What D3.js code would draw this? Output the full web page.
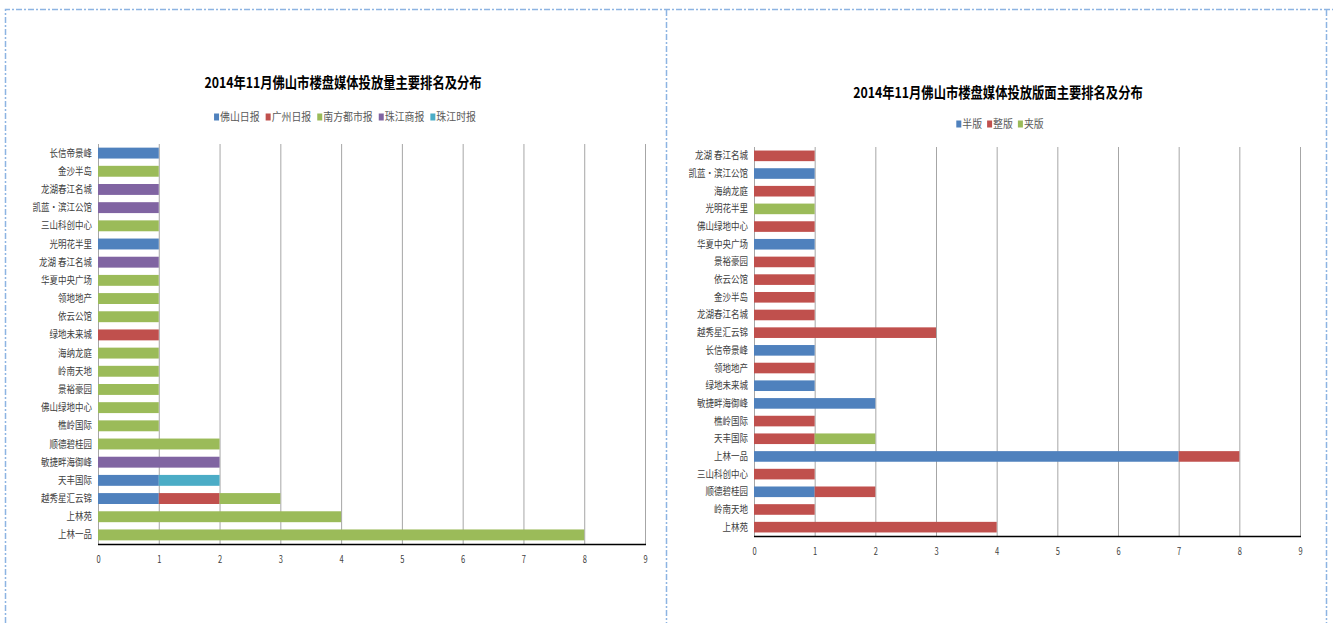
<!DOCTYPE html>
<html>
<head>
<meta charset="utf-8">
<script src="https://cdn.jsdelivr.net/npm/d3@7.9.0/dist/d3.min.js"></script>
<style>
  body { margin: 0; background: #fff; }
  text { font-family: "Noto Sans CJK SC", "Noto Sans", sans-serif; }
</style>
</head>
<body>
<div id="viz"></div>
<script>
// chart 1: media volume
const volCategories = ["长信帝景峰", "金沙半岛", "龙湖春江名城", "凯蓝·滨江公馆", "三山科创中心", "光明花半里",
  "龙湖 春江名城", "华夏中央广场", "领地地产", "依云公馆", "绿地未来城", "海纳龙庭", "岭南天地", "景裕豪园",
  "佛山绿地中心", "樵岭国际", "顺德碧桂园", "敏捷畔海御峰", "天丰国际", "越秀星汇云锦", "上林苑", "上林一品"];
const volSeries = ["佛山日报", "广州日报", "南方都市报", "珠江商报", "珠江时报"];
const volFoshan   = [1, 0, 0, 0, 0, 1, 0, 0, 0, 0, 0, 0, 0, 0, 0, 0, 0, 0, 1, 1, 0, 0];
const volGuangzhou = [0, 0, 0, 0, 0, 0, 0, 0, 0, 0, 1, 0, 0, 0, 0, 0, 0, 0, 0, 1, 0, 0];
const volNanfang  = [0, 1, 0, 0, 1, 0, 0, 1, 1, 1, 0, 1, 1, 1, 1, 1, 2, 0, 0, 1, 4, 8];
const volShangbao = [0, 0, 1, 1, 0, 0, 1, 0, 0, 0, 0, 0, 0, 0, 0, 0, 0, 2, 0, 0, 0, 0];
const volShibao   = [0, 0, 0, 0, 0, 0, 0, 0, 0, 0, 0, 0, 0, 0, 0, 0, 0, 0, 1, 0, 0, 0];

// chart 2: page size
const pageCategories = ["龙湖 春江名城", "凯蓝·滨江公馆", "海纳龙庭", "光明花半里", "佛山绿地中心", "华夏中央广场",
  "景裕豪园", "依云公馆", "金沙半岛", "龙湖春江名城", "越秀星汇云锦", "长信帝景峰", "领地地产", "绿地未来城",
  "敏捷畔海御峰", "樵岭国际", "天丰国际", "上林一品", "三山科创中心", "顺德碧桂园", "岭南天地", "上林苑"];
const pageSeries = ["半版", "整版", "夹版"];
const pageHalf  = [0, 1, 0, 0, 0, 1, 0, 0, 0, 0, 0, 1, 0, 1, 2, 0, 0, 7, 0, 1, 0, 0];
const pageFull  = [1, 0, 1, 0, 1, 0, 1, 1, 1, 1, 3, 0, 1, 0, 0, 1, 1, 1, 1, 1, 1, 4];
const pageInsert = [0, 0, 0, 1, 0, 0, 0, 0, 0, 0, 0, 0, 0, 0, 0, 0, 1, 0, 0, 0, 0, 0];

const xTicks = [0, 1, 2, 3, 4, 5, 6, 7, 8, 9];

const width = 1333, height = 623;
const svg = d3.select("#viz").append("svg")
  .attr("width", width)
  .attr("height", height);

// squeeze text horizontally (the original uses a narrow font)
function squeeze(sel, k) {
  sel.each(function () {
    const w = this.getComputedTextLength();
    d3.select(this).attr("textLength", w * k).attr("lengthAdjust", "spacingAndGlyphs");
  });
}

// dashed panel borders
const border = svg.append("g")
  .attr("fill", "none")
  .attr("stroke", "#8DB4E2")
  .attr("stroke-width", 1.5)
  .attr("stroke-dasharray", "6,2,2,2");
border.append("path").attr("d", "M5.5,623 V9.5 H1333");
border.append("path").attr("d", "M666.5,10 V623");
border.append("path").attr("d", "M1326.5,10 V623");

function drawChart(cfg) {
  const g = svg.append("g");
  const rows = cfg.categories.map((c, i) => {
    const r = { name: c };
    cfg.series.forEach((s, j) => r[s] = cfg.values[j][i]);
    return r;
  });
  const stacked = d3.stack().keys(cfg.series)(rows);

  const x = d3.scaleLinear().domain([0, 9]).range([cfg.left, cfg.right]);
  const y = d3.scaleBand().domain(cfg.categories).range([cfg.top, cfg.bottom]).paddingInner(0.4).paddingOuter(0.2);
  const color = d3.scaleOrdinal().domain(cfg.series).range(cfg.colors);

  // gridlines
  g.append("g")
    .selectAll("line")
    .data(xTicks)
    .join("line")
    .attr("x1", d => x(d) + 0.5)
    .attr("x2", d => x(d) + 0.5)
    .attr("y1", cfg.top)
    .attr("y2", cfg.bottom)
    .attr("stroke", "#A6A6A6")
    .attr("stroke-width", 1);

  // bars
  g.append("g")
    .selectAll("g")
    .data(stacked)
    .join("g")
    .attr("fill", d => color(d.key))
    .selectAll("rect")
    .data(d => d.filter(v => v[1] > v[0]))
    .join("rect")
    .attr("x", d => x(d[0]))
    .attr("y", d => y(d.data.name))
    .attr("width", d => x(d[1]) - x(d[0]))
    .attr("height", y.bandwidth());

  // bottom axis line
  g.append("line")
    .attr("x1", cfg.left)
    .attr("x2", cfg.right + 1)
    .attr("y1", cfg.bottom + 0.5)
    .attr("y2", cfg.bottom + 0.5)
    .attr("stroke", "#000")
    .attr("stroke-width", 1.3);

  // x tick labels
  g.append("g")
    .selectAll("text")
    .data(xTicks)
    .join("text")
    .attr("x", d => x(d) + 0.5)
    .attr("y", cfg.bottom + 15)
    .attr("dy", "0.35em")
    .attr("text-anchor", "middle")
    .attr("font-size", 10)
    .attr("fill", "#404040")
    .text(d => d)
    .call(squeeze, 0.75);

  // category labels
  g.append("g")
    .selectAll("text")
    .data(cfg.categories)
    .join("text")
    .attr("x", cfg.left - 6)
    .attr("y", d => y(d) + y.bandwidth() / 2)
    .attr("dy", "0.35em")
    .attr("text-anchor", "end")
    .attr("font-size", 10)
    .attr("fill", "#404040")
    .text(d => d)
    .call(squeeze, 0.85);

  // title
  g.append("text")
    .attr("x", cfg.titleX)
    .attr("y", cfg.titleY)
    .attr("dy", "0.35em")
    .attr("text-anchor", "middle")
    .attr("font-size", 15)
    .attr("font-weight", "bold")
    .attr("fill", "#000")
    .text(cfg.title)
    .call(squeeze, 0.82);

  // legend
  const legend = g.append("g");
  const items = legend.selectAll("g")
    .data(cfg.series)
    .join("g");
  items.append("rect")
    .attr("y", -3.5)
    .attr("width", 5)
    .attr("height", 7)
    .attr("fill", d => color(d));
  items.append("text")
    .attr("x", 6)
    .attr("dy", "0.35em")
    .attr("font-size", 11)
    .attr("fill", "#595959")
    .text(d => d)
    .call(squeeze, 0.9);
  let offset = 0;
  items.each(function () {
    const w = this.getBBox().width;
    d3.select(this).attr("transform", `translate(${offset},0)`);
    offset += w + cfg.legendGap;
  });
  const total = offset - cfg.legendGap;
  legend.attr("transform", `translate(${cfg.legendX - total / 2},${cfg.legendY})`);
}

drawChart({
  title: "2014年11月佛山市楼盘媒体投放量主要排名及分布",
  categories: volCategories,
  series: volSeries,
  values: [volFoshan, volGuangzhou, volNanfang, volShangbao, volShibao],
  colors: ["#4F81BD", "#C0504D", "#9BBB59", "#8064A2", "#4BACC6"],
  left: 98, right: 645, top: 144, bottom: 544,
  titleX: 343, titleY: 83,
  legendX: 345, legendY: 117, legendGap: 6
});

drawChart({
  title: "2014年11月佛山市楼盘媒体投放版面主要排名及分布",
  categories: pageCategories,
  series: pageSeries,
  values: [pageHalf, pageFull, pageInsert],
  colors: ["#4F81BD", "#C0504D", "#9BBB59"],
  left: 754, right: 1300, top: 147, bottom: 536,
  titleX: 998, titleY: 93,
  legendX: 1000, legendY: 124, legendGap: 5
});
</script>
</body>
</html>
